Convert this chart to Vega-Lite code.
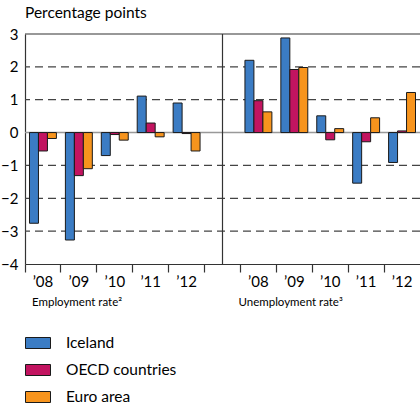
{
  "$schema": "https://vega.github.io/schema/vega-lite/v6.json",
  "autosize": "none",
  "width": 395,
  "height": 230,
  "padding": {"left": 25, "top": 34, "right": 0, "bottom": 139},
  "background": "white",
  "config": {
    "font": "Lato",
    "view": {"stroke": null},
    "axisY": {
      "labelFontSize": 15, "labelColor": "black", "labelPadding": 7, "labelOverlap": false, "tickCount": 8,
      "ticks": false, "domain": true, "domainColor": "#333", "domainWidth": 1.2, "grid": false
    }
  },
  "title": {"text": "Percentage points", "anchor": "start", "fontSize": 15.5, "fontWeight": "normal", "color": "black", "offset": 6, "frame": "group"},
  "datasets": {
    "bars": [
      {"slot": "E08", "series": "Iceland", "value": -2.76},
      {"slot": "E08", "series": "OECD countries", "value": -0.56},
      {"slot": "E08", "series": "Euro area", "value": -0.18},
      {"slot": "E09", "series": "Iceland", "value": -3.27},
      {"slot": "E09", "series": "OECD countries", "value": -1.31},
      {"slot": "E09", "series": "Euro area", "value": -1.1},
      {"slot": "E10", "series": "Iceland", "value": -0.7},
      {"slot": "E10", "series": "OECD countries", "value": -0.06},
      {"slot": "E10", "series": "Euro area", "value": -0.23},
      {"slot": "E11", "series": "Iceland", "value": 1.11},
      {"slot": "E11", "series": "OECD countries", "value": 0.29},
      {"slot": "E11", "series": "Euro area", "value": -0.13},
      {"slot": "E12", "series": "Iceland", "value": 0.9},
      {"slot": "E12", "series": "OECD countries", "value": -0.03},
      {"slot": "E12", "series": "Euro area", "value": -0.56},
      {"slot": "U08", "series": "Iceland", "value": 2.2},
      {"slot": "U08", "series": "OECD countries", "value": 0.97},
      {"slot": "U08", "series": "Euro area", "value": 0.63},
      {"slot": "U09", "series": "Iceland", "value": 2.88},
      {"slot": "U09", "series": "OECD countries", "value": 1.92},
      {"slot": "U09", "series": "Euro area", "value": 1.98},
      {"slot": "U10", "series": "Iceland", "value": 0.51},
      {"slot": "U10", "series": "OECD countries", "value": -0.22},
      {"slot": "U10", "series": "Euro area", "value": 0.12},
      {"slot": "U11", "series": "Iceland", "value": -1.54},
      {"slot": "U11", "series": "OECD countries", "value": -0.28},
      {"slot": "U11", "series": "Euro area", "value": 0.45},
      {"slot": "U12", "series": "Iceland", "value": -0.91},
      {"slot": "U12", "series": "OECD countries", "value": 0.05},
      {"slot": "U12", "series": "Euro area", "value": 1.22}
    ],
    "grid": [{"g": -3}, {"g": -2}, {"g": -1}, {"g": 1}, {"g": 2}],
    "one": [{}],
    "sub": [{"slot": "E08", "label": "Employment rate\u00b2"}, {"slot": "U08", "label": "Unemployment rate\u00b3"}]
  },
  "layer": [
    {
      "data": {"name": "grid"},
      "mark": {"type": "rule", "color": "#444444", "strokeWidth": 1.2, "strokeDash": [8, 5]},
      "encoding": {
        "y": {
          "field": "g", "type": "quantitative",
          "scale": {"domain": [-4, 3], "nice": false, "zero": false},
          "axis": {"title": null, "values": [-4, -3, -2, -1, 0, 1, 2, 3], "labelOverlap": false}
        }
      }
    },
    {
      "data": {"name": "one"},
      "mark": {"type": "rule", "color": "#999999", "strokeWidth": 1.5},
      "encoding": {
        "y": {"datum": 0, "type": "quantitative"}
      }
    },
    {
      "data": {"name": "bars"},
      "mark": {"type": "bar", "stroke": "#1a1a1a", "strokeWidth": 1},
      "encoding": {
        "x": {
          "field": "slot", "type": "ordinal",
          "scale": {"domain": ["E08", "E09", "E10", "E11", "E12", "gap", "U08", "U09", "U10", "U11", "U12"], "paddingInner": 0, "paddingOuter": 0},
          "axis": {
            "orient": "bottom", "title": null, "labelAngle": 0, "bandPosition": 0,
            "labelExpr": "datum.value == 'gap' ? '' : '\u2019' + slice(datum.value, 1)",
            "labelFontSize": 15, "labelColor": "black", "labelPadding": 2,
            "ticks": true, "tickSize": 8, "tickColor": "#333", "tickWidth": 1.2,
            "domain": true, "domainColor": "#333", "domainWidth": 1.2, "grid": false
          }
        },
        "xOffset": {"field": "series", "type": "nominal", "sort": ["Iceland", "OECD countries", "Euro area"], "scale": {"paddingOuter": 0.5, "paddingInner": 0}},
        "y": {
          "field": "value", "type": "quantitative",
          "axis": {"title": null, "values": [-4, -3, -2, -1, 0, 1, 2, 3], "labelOverlap": false}
        },
        "color": {
          "field": "series", "type": "nominal",
          "scale": {"domain": ["Iceland", "OECD countries", "Euro area"], "range": ["#3b7cc4", "#c21460", "#f7941d"]},
          "legend": {
            "title": null, "orient": "none", "legendX": 0, "legendY": 296, "direction": "vertical",
            "symbolType": "M-1,-0.44H1V0.44H-1Z", "symbolSize": 625,
            "symbolStrokeColor": "#1a1a1a", "symbolStrokeWidth": 1,
            "labelFontSize": 15.5, "labelColor": "black", "labelOffset": 15, "rowPadding": 5
          }
        }
      }
    },
    {
      "data": {"name": "one"},
      "mark": {"type": "rule", "color": "#333", "strokeWidth": 1.2},
      "encoding": {
        "y": {"datum": 3, "type": "quantitative"}
      }
    },
    {
      "data": {"name": "one"},
      "mark": {"type": "rule", "color": "#333", "strokeWidth": 1.2},
      "encoding": {
        "x": {"datum": "gap", "type": "ordinal", "bandPosition": 0.5}
      }
    },
    {
      "data": {"name": "sub"},
      "mark": {"type": "text", "align": "left", "baseline": "middle", "fontSize": 11.5, "color": "black", "dx": {"expr": "datum.slot == 'E08' ? 7 : -2"}},
      "encoding": {
        "x": {"field": "slot", "type": "ordinal", "bandPosition": 0},
        "y": {"datum": -5.2, "type": "quantitative"},
        "text": {"field": "label"}
      }
    }
  ]
}
